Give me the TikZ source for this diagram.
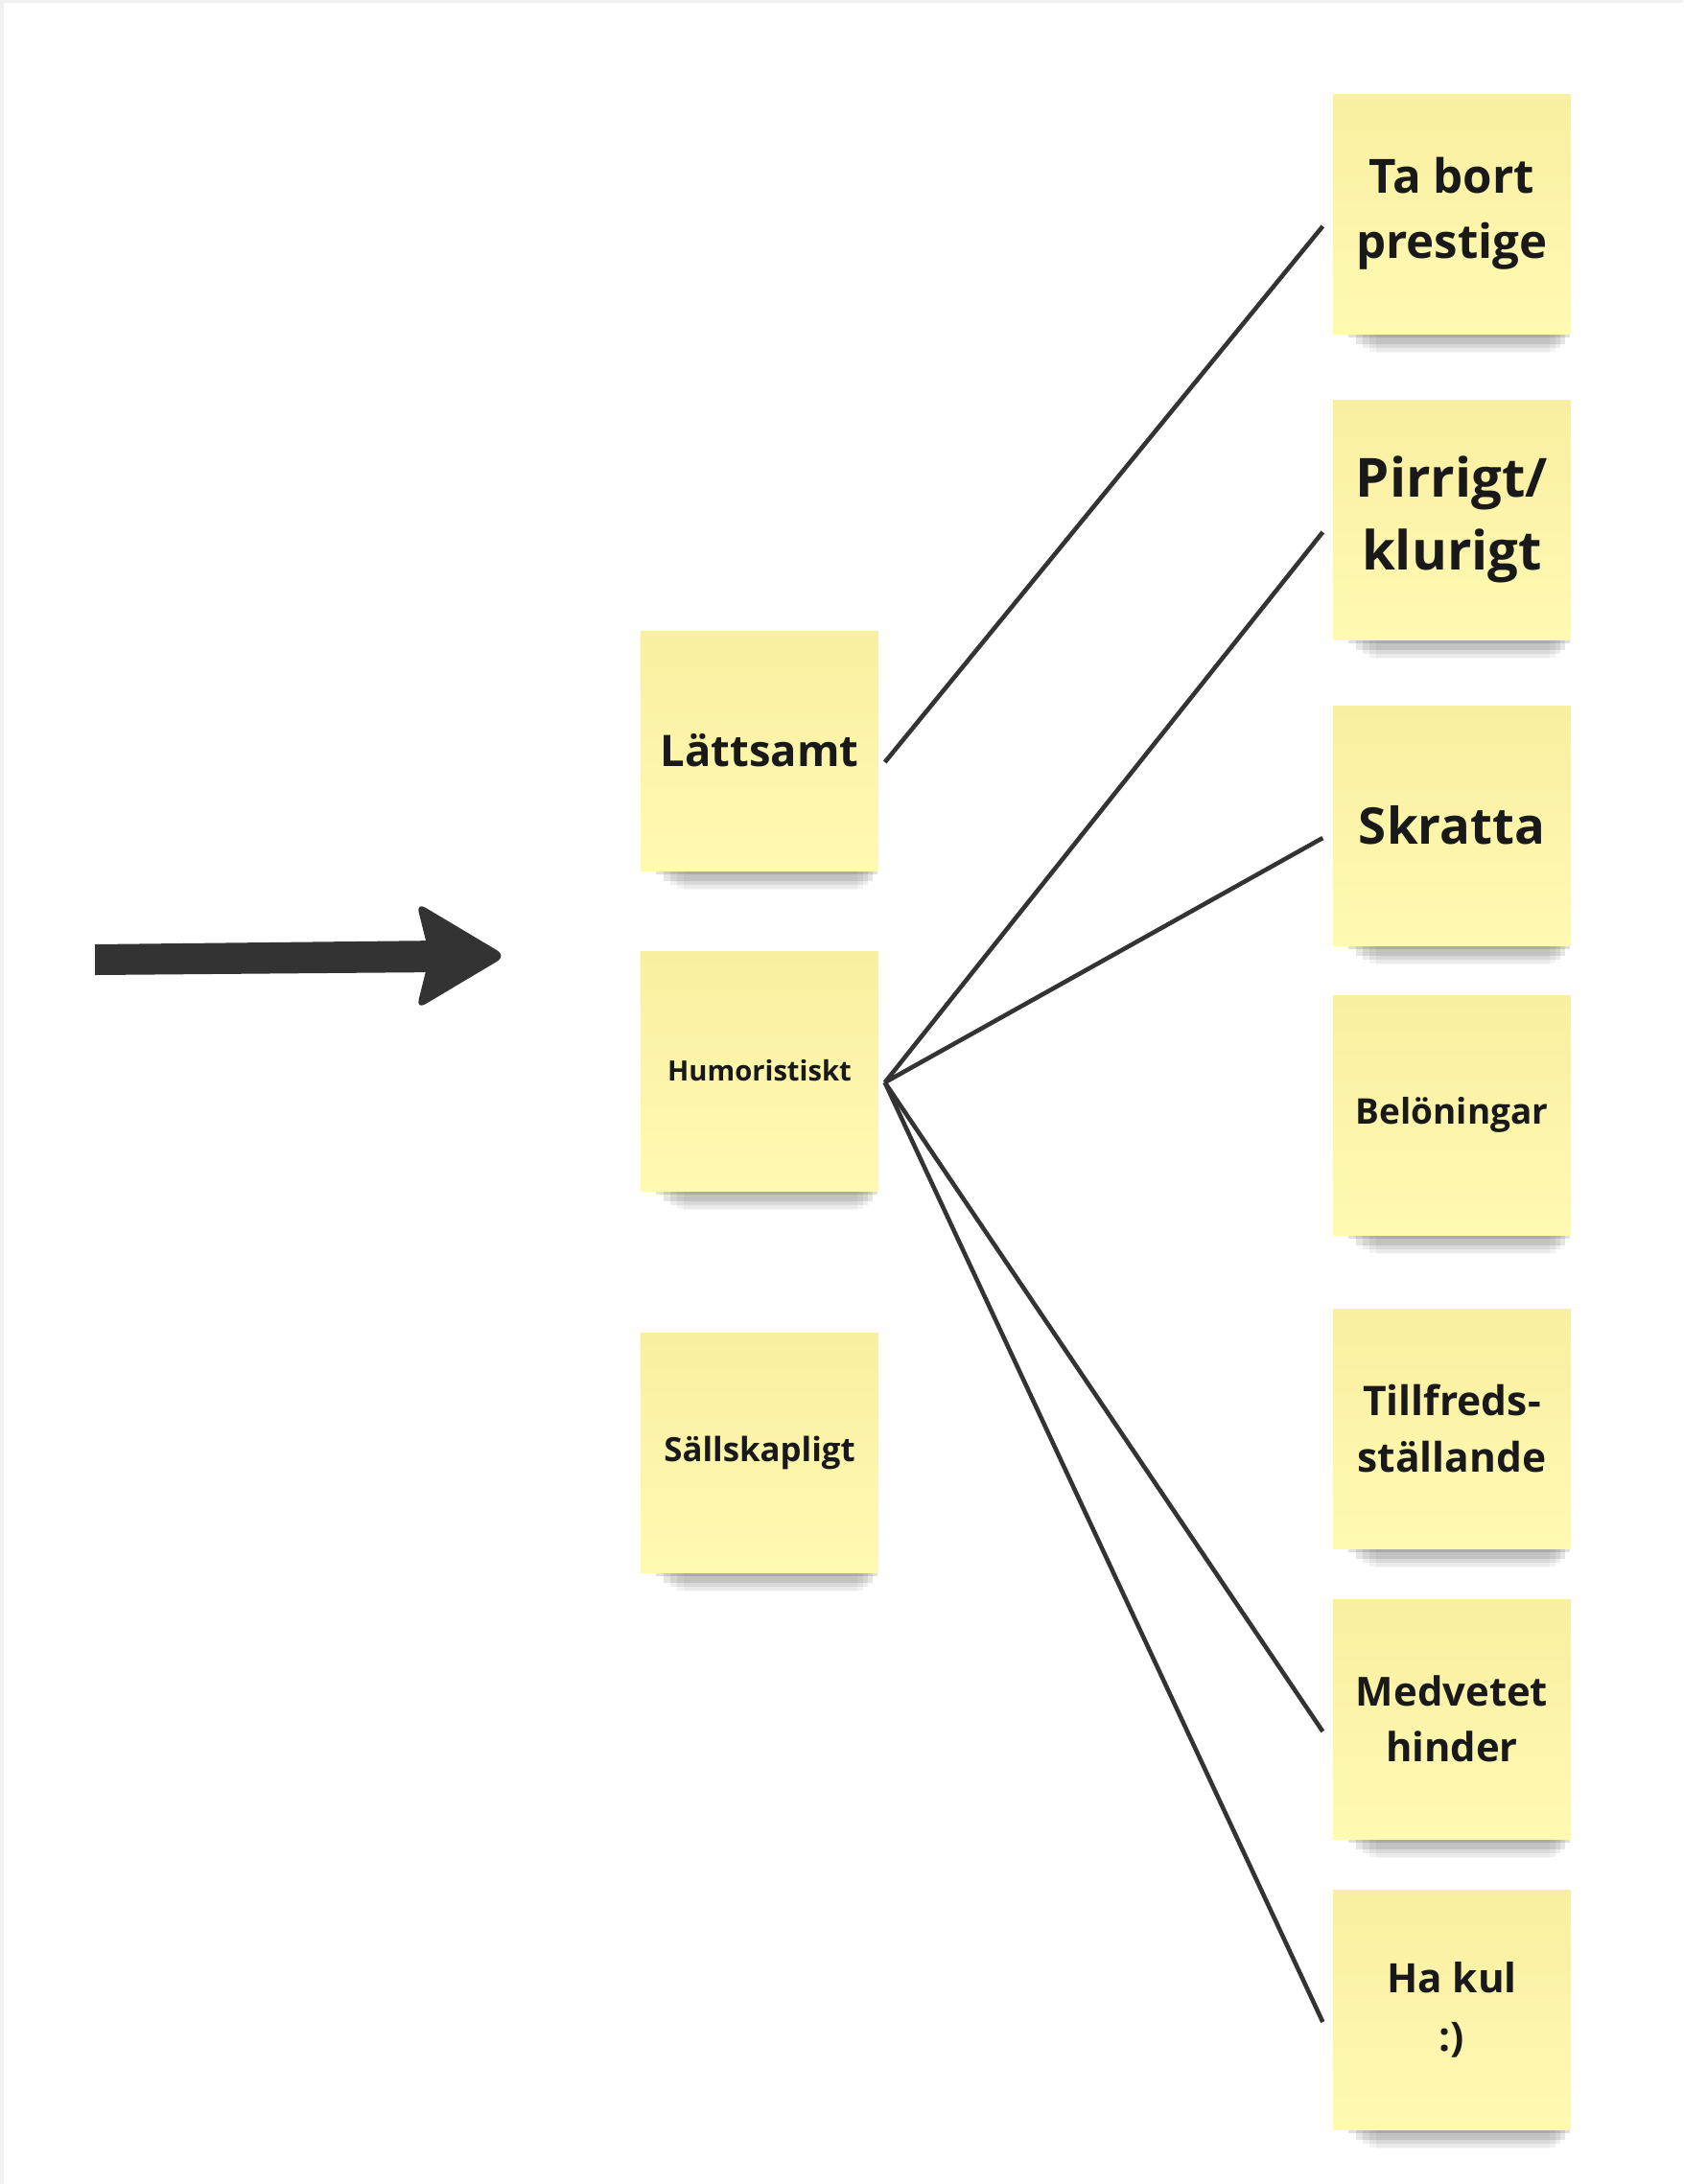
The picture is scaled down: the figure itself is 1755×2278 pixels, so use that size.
\documentclass[tikz,border=0pt]{standalone}
\usepackage{fontspec}
\setmainfont{Open Sans}
\usetikzlibrary{shadows}
\definecolor{lapp}{RGB}{255,249,178}
\definecolor{lapptop}{RGB}{249,239,160}
\definecolor{streck}{RGB}{51,51,51}
\newcommand{\lappfont}[2]{\bfseries\fontsize{#1}{#2}\selectfont}
\begin{document}
\begin{tikzpicture}[x=0.1mm,y=-0.1mm,
	lapp/.style={minimum width=24.8mm,minimum height=25mm,inner sep=0pt,align=center,
		text=black!90,top color=lapptop,middle color=lapp,bottom color=lapp,
		general shadow={fill=black,opacity=.12,shadow xshift=.8mm,shadow yshift=-1.4mm,shadow scale=.93},
		general shadow={fill=black,opacity=.10,shadow xshift=1mm,shadow yshift=-2.9mm,shadow scale=.88},
		general shadow={fill=black,opacity=.07,shadow xshift=1.2mm,shadow yshift=-4.4mm,shadow scale=.83},
		general shadow={fill=black,opacity=.05,shadow xshift=1.4mm,shadow yshift=-5.9mm,shadow scale=.78},
		general shadow={fill=black,opacity=.03,shadow xshift=1.6mm,shadow yshift=-7.4mm,shadow scale=.73}},
	link/.style={streck,line width=1.3pt}]
	\useasboundingbox[fill=white] (0,0) rectangle (1755,2278);
	\fill[gray!12] (0,0) rectangle (1755,3);
	\fill[gray!12] (0,0) rectangle (4,2278);
	% pil
	\coordinate (pilstart) at (99,1001);
	\coordinate (pilspets) at (528,997);
	\fill[streck] (pilstart) ++(0,-16) -- (460,981) -- (460,1014) -- ++(-361,3) -- cycle;
	\fill[streck,rounded corners=1.1mm] (434,941) -- (pilspets) -- (434,1053) -- (448,997) -- cycle;
	% vänster kolumn
	\node[lapp,font=\lappfont{12.9}{17}] (latt) at (792,783) {Lättsamt};
	\node[lapp,font=\lappfont{8.3}{11}] (humor) at (792,1117) {Humoristiskt};
	\node[lapp,font=\lappfont{9.9}{13}] (sall) at (792,1515) {Sällskapligt};
	% höger kolumn
	\node[lapp,font=\lappfont{14}{19.3}] (prestige) at (1514,223) {Ta bort\\prestige};
	\node[lapp,font=\lappfont{16}{21.5}] (pirrigt) at (1514,542) {Pirrigt/\\klurigt};
	\node[lapp,font=\lappfont{15}{20}] (skratta) at (1514,861) {Skratta};
	\node[lapp,font=\lappfont{10.5}{14}] (belon) at (1514,1163) {Belöningar};
	\node[lapp,font=\lappfont{12.1}{17}] (tillfreds) at (1514,1490) {Tillfreds-\\ställande};
	\node[lapp,font=\lappfont{11.9}{16.5}] (hinder) at (1514,1793) {Medvetet\\hinder};
	\node[lapp,font=\lappfont{12}{17.4}] (hakul) at (1514,2096) {Ha kul\\:)};
	% linjer
	\draw[link] ([shift={(6,12)}]latt.east) -- ([shift={(-10,13)}]prestige.west);
	\foreach \mal in {pirrigt,skratta,hinder,hakul}
		\draw[link] ([shift={(6,12)}]humor.east) -- ([shift={(-10,13)}]\mal.west);
\end{tikzpicture}
\end{document}
